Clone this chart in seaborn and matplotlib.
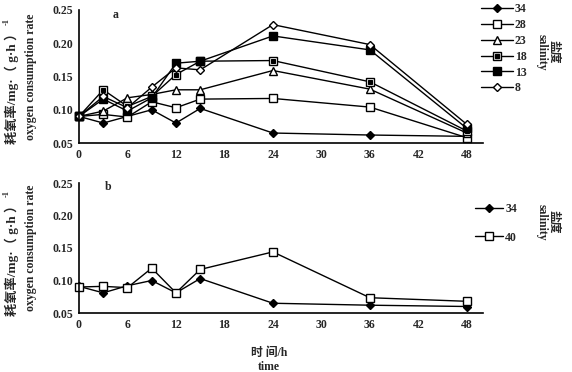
import seaborn as sns
import matplotlib
matplotlib.use('Agg')
import matplotlib.pyplot as plt
from matplotlib.legend_handler import HandlerTuple
from matplotlib.lines import Line2D

sns.set_style('white')
fam = ['Liberation Serif', 'Noto Sans CJK SC', 'DejaVu Serif']
plt.rcParams['font.family'] = fam
plt.rcParams['font.weight'] = 'bold'

# data
time_h = [0, 3, 6, 9, 12, 15, 24, 36, 48]
# panel a
sal_34 = [0.090, 0.080, 0.090, 0.100, 0.080, 0.102, 0.065, 0.062, 0.060]
sal_28 = [0.090, 0.093, 0.089, 0.112, 0.103, 0.116, 0.117, 0.104, 0.058]
sal_23 = [0.090, 0.098, 0.118, 0.123, 0.130, 0.130, 0.159, 0.131, 0.065]
sal_18 = [0.090, 0.130, 0.105, 0.120, 0.153, 0.173, 0.174, 0.142, 0.068]
sal_13 = [0.090, 0.116, 0.098, 0.118, 0.170, 0.173, 0.211, 0.190, 0.072]
sal_8 = [0.090, 0.120, 0.103, 0.134, 0.163, 0.160, 0.228, 0.198, 0.078]
# panel b
b_sal_34 = [0.091, 0.081, 0.092, 0.100, 0.081, 0.103, 0.065, 0.062, 0.060]
b_sal_40 = [0.090, 0.091, 0.089, 0.119, 0.081, 0.117, 0.144, 0.0735, 0.068]

labels_a = ['34', '28', '23', '18', '13', '8']
labels_b = ['34', '40']
yticks = [0.05, 0.10, 0.15, 0.20, 0.25]
xticks = [0, 6, 12, 18, 24, 30, 36, 42, 48]

fig = plt.figure(figsize=(5.72, 3.72), dpi=100)
ax1 = fig.add_axes([79/572, 1-143/372, 404/572, 133/372])
ax2 = fig.add_axes([79/572, 1-313/372, 404/572, 130/372])

lw = 1.0
ms = 5.5
kw = dict(color='k', linewidth=lw, markersize=ms, markeredgewidth=1.0,
          clip_on=False, legend=False)

def draw(ax, y, marker, face, small=False):
    size = 4.5 if marker == 'D' else ms
    kw2 = dict(kw, markersize=size)
    sns.lineplot(x=time_h, y=y, ax=ax, marker=marker, mfc=face, mec='k', **kw2)
    h = Line2D([], [], color='k', lw=lw, marker=marker, mfc=face, mec='k', ms=size, mew=1.0)
    if small:
        sns.lineplot(x=time_h, y=y, ax=ax, marker='s', mfc='k', mec='k',
                     linestyle='', color='k', markersize=2.2, clip_on=False, legend=False)
        h2 = Line2D([], [], color='k', lw=0, marker='s', mfc='k', mec='k', ms=2.2)
        return (h, h2)
    return h

handles_a = [
    draw(ax1, sal_34, 'D', 'k'),
    draw(ax1, sal_28, 's', 'white'),
    draw(ax1, sal_23, '^', 'white'),
    draw(ax1, sal_18, 's', 'white', small=True),
    draw(ax1, sal_13, 's', 'k'),
    draw(ax1, sal_8, 'D', 'white'),
]
handles_b = [
    draw(ax2, b_sal_34, 'D', 'k'),
    draw(ax2, b_sal_40, 's', 'white'),
]

for ax in (ax1, ax2):
    ax.set_xlim(0, 50)
    ax.set_ylim(0.05, 0.25)
    ax.set_xticks(xticks)
    ax.set_yticks(yticks)
    ax.set_xticklabels([str(t) for t in xticks], fontsize=8.5, fontweight='bold')
    ax.set_yticklabels(['%.2f' % t for t in yticks], fontsize=8.5, fontweight='bold')
    ax.tick_params(direction='in', length=4, width=1, pad=4, color='k')
    for s in ['top', 'right']:
        ax.spines[s].set_visible(False)
    for s in ['left', 'bottom']:
        ax.spines[s].set_color('k')
        ax.spines[s].set_linewidth(1.2)
    ax.set_ylabel('oxygen consumption rate', fontsize=8.5, fontweight='bold')
    ax.yaxis.set_label_coords(-0.105, 0.5)
    ax.set_xlabel('')

ax1.text(0.084, 0.96, 'a', transform=ax1.transAxes, fontsize=8.5, fontweight='bold', va='center')
ax2.text(0.064, 0.97, 'b', transform=ax2.transAxes, fontsize=8.5, fontweight='bold', va='center')

ax2.set_xlabel('时 间/h\ntime', fontsize=8.5, fontweight='bold', linespacing=1.2)
ax2.xaxis.set_label_coords(0.47, -0.26)

leg1 = ax1.legend(handles_a, labels_a, loc='upper left', bbox_to_anchor=(481/572, 1-3/372),
                  bbox_transform=fig.transFigure, frameon=False, fontsize=8.5,
                  handlelength=2.7, handletextpad=0.15, labelspacing=0.33, borderpad=0,
                  borderaxespad=0, handler_map={tuple: HandlerTuple(ndivide=1)})
leg2 = ax2.legend(handles_b, labels_b, loc='upper left', bbox_to_anchor=(475/572, 1-203/372),
                  bbox_transform=fig.transFigure, frameon=False, fontsize=8.5,
                  handlelength=2.4, handletextpad=0.15, labelspacing=1.4, borderpad=0,
                  borderaxespad=0)

for yc in (52, 222):
    fig.text(548/572, 1-yc/372, '盐度\nsalinity', rotation=270, ha='center', va='center',
             fontsize=8.5, fontweight='bold', linespacing=1.0)

# Chinese y label line with superscript -1
fig.canvas.draw()
r = fig.canvas.get_renderer()
for ypix in (85, 257):
    t = fig.text(12/572, 1 - ypix/372, '耗氧率/mg·（ g·h ）', rotation=90, ha='center', va='center',
                 fontsize=9.5, fontweight='bold')
    e = t.get_window_extent(r)
    fig.text((e.x0 + 2) / fig.bbox.width, (e.y1 + 1) / fig.bbox.height, '-1', rotation=90,
             ha='center', va='bottom', fontsize=6, fontweight='bold')

fig.savefig('out.png', dpi=100, facecolor='white')
